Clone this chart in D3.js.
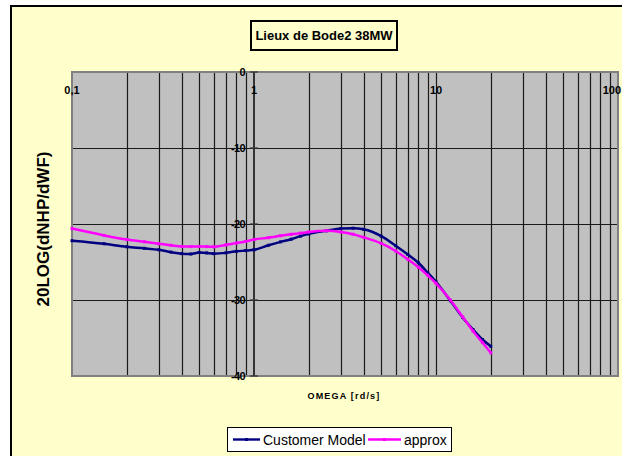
<!DOCTYPE html>
<html>
<head>
<meta charset="utf-8">
<script src="https://cdn.jsdelivr.net/npm/d3@7"></script>
<style>
  html, body { margin: 0; padding: 0; background: #ffffff; }
  svg { display: block; font-family: Arial, "Liberation Sans", sans-serif; }
</style>
</head>
<body>
<svg id="chart" width="622" height="456"></svg>
<script>
// Frequency points (rd/s)
const omega = [0.1, 0.15, 0.2, 0.25, 0.3, 0.35, 0.4, 0.45, 0.5, 0.55, 0.6, 0.7, 0.8, 0.9,
               1, 1.2, 1.4, 1.6, 1.8, 2, 2.5, 3, 3.5, 4, 5, 6, 7, 8, 9, 10, 12, 14, 16, 18, 20];

// 20LOG(dNHP/dWF) for the customer model
const customerModel = [-22.2, -22.6, -23.0, -23.2, -23.4, -23.7, -23.9, -23.95, -23.75, -23.8, -23.9, -23.8, -23.6, -23.5,
                       -23.4, -22.8, -22.35, -22.0, -21.6, -21.3, -20.9, -20.6, -20.55, -20.7, -21.6, -22.85, -24.0, -25.1, -26.4, -27.6, -30.1, -32.3, -33.9, -35.2, -36.1];

// 20LOG(dNHP/dWF) for the approximation
const approx = [-20.6, -21.5, -22.05, -22.35, -22.6, -22.8, -22.95, -22.97, -22.95, -22.97, -23.0, -22.75, -22.5, -22.3,
                -22.05, -21.8, -21.55, -21.35, -21.2, -21.05, -20.9, -21.05, -21.35, -21.75, -22.55, -23.55, -24.65, -25.7, -26.75, -27.8, -30.0, -32.2, -34.1, -35.6, -36.95];

const seriesNames = ["Customer Model", "approx"];
const xTickValues = [0.1, 1, 10, 100];
const xTickLabels = ["0,1", "1", "10", "100"];
const yTickValues = [0, -10, -20, -30, -40];

const colors = { "Customer Model": "#000080", "approx": "#FF00FF" };

const svg = d3.select("#chart");

// Chart frame
svg.append("rect").attr("x", 0).attr("y", 0).attr("width", 622).attr("height", 456).attr("fill", "#ffffff");
svg.append("rect").attr("x", 11).attr("y", 6).attr("width", 640).attr("height", 480)
  .attr("fill", "#FFFFCC").attr("stroke", "#000").attr("stroke-width", 2);

const plot = { left: 72, right: 618, top: 72, bottom: 376 };

const x = d3.scaleLog().domain([0.1, 100]).range([plot.left, plot.right]);
const y = d3.scaleLinear().domain([-40, 0]).range([plot.bottom, plot.top]);

// Plot area
svg.append("rect")
  .attr("x", plot.left).attr("y", plot.top)
  .attr("width", plot.right - plot.left).attr("height", plot.bottom - plot.top)
  .attr("fill", "#C0C0C0");

// Vertical grid (log decades with minor steps)
const vGrid = [];
[0.1, 1, 10].forEach(d => { for (let k = 2; k <= 9; k++) vGrid.push(+(d * k).toFixed(4)); });
vGrid.push(10);
svg.append("g").selectAll("line").data(vGrid).join("line")
  .attr("x1", d => Math.round(x(d)) + 0.5).attr("x2", d => Math.round(x(d)) + 0.5)
  .attr("y1", plot.top).attr("y2", plot.bottom)
  .attr("stroke", "#1a1a1a").attr("stroke-width", 1.2);

// Horizontal grid
svg.append("g").selectAll("line").data([-10, -20, -30]).join("line")
  .attr("x1", plot.left).attr("x2", plot.right)
  .attr("y1", d => Math.round(y(d)) + 0.5).attr("y2", d => Math.round(y(d)) + 0.5)
  .attr("stroke", "#1a1a1a").attr("stroke-width", 1.2);

// Plot border
svg.append("rect")
  .attr("x", plot.left).attr("y", plot.top)
  .attr("width", plot.right - plot.left).attr("height", plot.bottom - plot.top)
  .attr("fill", "none").attr("stroke", "#808080").attr("stroke-width", 2);

// Value axis crossing at omega = 1
const yAxisX = x(1);
svg.append("line")
  .attr("x1", yAxisX).attr("x2", yAxisX).attr("y1", plot.top).attr("y2", plot.bottom)
  .attr("stroke", "#333").attr("stroke-width", 2);
svg.append("g").selectAll("line").data(yTickValues).join("line")
  .attr("x1", yAxisX - 4).attr("x2", yAxisX + 4)
  .attr("y1", d => y(d)).attr("y2", d => y(d))
  .attr("stroke", "#333").attr("stroke-width", 1.2);
svg.append("g").selectAll("text").data(yTickValues).join("text")
  .attr("x", yAxisX - 9).attr("y", d => y(d) + 4)
  .attr("text-anchor", "end")
  .attr("font-size", 11).attr("font-weight", "bold").attr("letter-spacing", -0.6)
  .text(d => d === 0 ? "0" : "-" + Math.abs(d));

// Category axis labels along the top; the last one is kept inside the frame
svg.append("g").selectAll("text").data(xTickValues).join("text")
  .attr("x", (d, i) => i === xTickValues.length - 1 ? 621 : x(d)).attr("y", 94)
  .attr("text-anchor", (d, i) => i === xTickValues.length - 1 ? "end" : "middle")
  .attr("font-size", 11).attr("font-weight", "bold")
  .text((d, i) => xTickLabels[i]);

// Series lines
const line = d3.line()
  .x(d => x(d[0])).y(d => y(d[1]))
  .curve(d3.curveMonotoneX);

const seriesData = [
  { name: "Customer Model", values: omega.map((w, i) => [w, customerModel[i]]) },
  { name: "approx", values: omega.map((w, i) => [w, approx[i]]) }
];

seriesData.forEach(s => {
  svg.append("path")
    .attr("d", line(s.values))
    .attr("fill", "none")
    .attr("stroke", colors[s.name])
    .attr("stroke-width", 2.5)
    .attr("stroke-linejoin", "round");
  svg.append("g").selectAll("rect").data(s.values).join("rect")
    .attr("x", d => x(d[0]) - 1.5).attr("y", d => y(d[1]) - 1.5)
    .attr("width", 3).attr("height", 3)
    .attr("fill", colors[s.name]);
});

// Title box
svg.append("rect").attr("x", 251).attr("y", 21).attr("width", 146).attr("height", 29)
  .attr("fill", "#FFFFCC").attr("stroke", "#000").attr("stroke-width", 2);
svg.append("text").attr("x", 324).attr("y", 40)
  .attr("text-anchor", "middle").attr("font-size", 13).attr("font-weight", "bold")
  .text("Lieux de Bode2 38MW");

// Axis titles
svg.append("text").attr("x", 344).attr("y", 399)
  .attr("text-anchor", "middle").attr("font-size", 9).attr("font-weight", "bold")
  .attr("letter-spacing", 1.2)
  .text("OMEGA [rd/s]");
svg.append("text")
  .attr("transform", "translate(49,229) rotate(-90)")
  .attr("text-anchor", "middle").attr("font-size", 17).attr("font-weight", "bold")
  .text("20LOG(dNHP/dWF)");

// Legend
const legend = svg.append("g");
legend.append("rect").attr("x", 227.5).attr("y", 427.5).attr("width", 224).attr("height", 24)
  .attr("fill", "#ffffff").attr("stroke", "#000").attr("stroke-width", 1);
const legendItems = [
  { name: seriesNames[0], x0: 233, x1: 260, tx: 263 },
  { name: seriesNames[1], x0: 368, x1: 401, tx: 404 }
];
legendItems.forEach(it => {
  legend.append("line").attr("x1", it.x0).attr("x2", it.x1).attr("y1", 439.5).attr("y2", 439.5)
    .attr("stroke", colors[it.name]).attr("stroke-width", 2.4);
  legend.append("rect").attr("x", (it.x0 + it.x1) / 2 - 1.5).attr("y", 438).attr("width", 3).attr("height", 3)
    .attr("fill", colors[it.name]);
  legend.append("text").attr("x", it.tx).attr("y", 444.5)
    .attr("font-size", 14).text(it.name);
});
</script>
</body>
</html>
